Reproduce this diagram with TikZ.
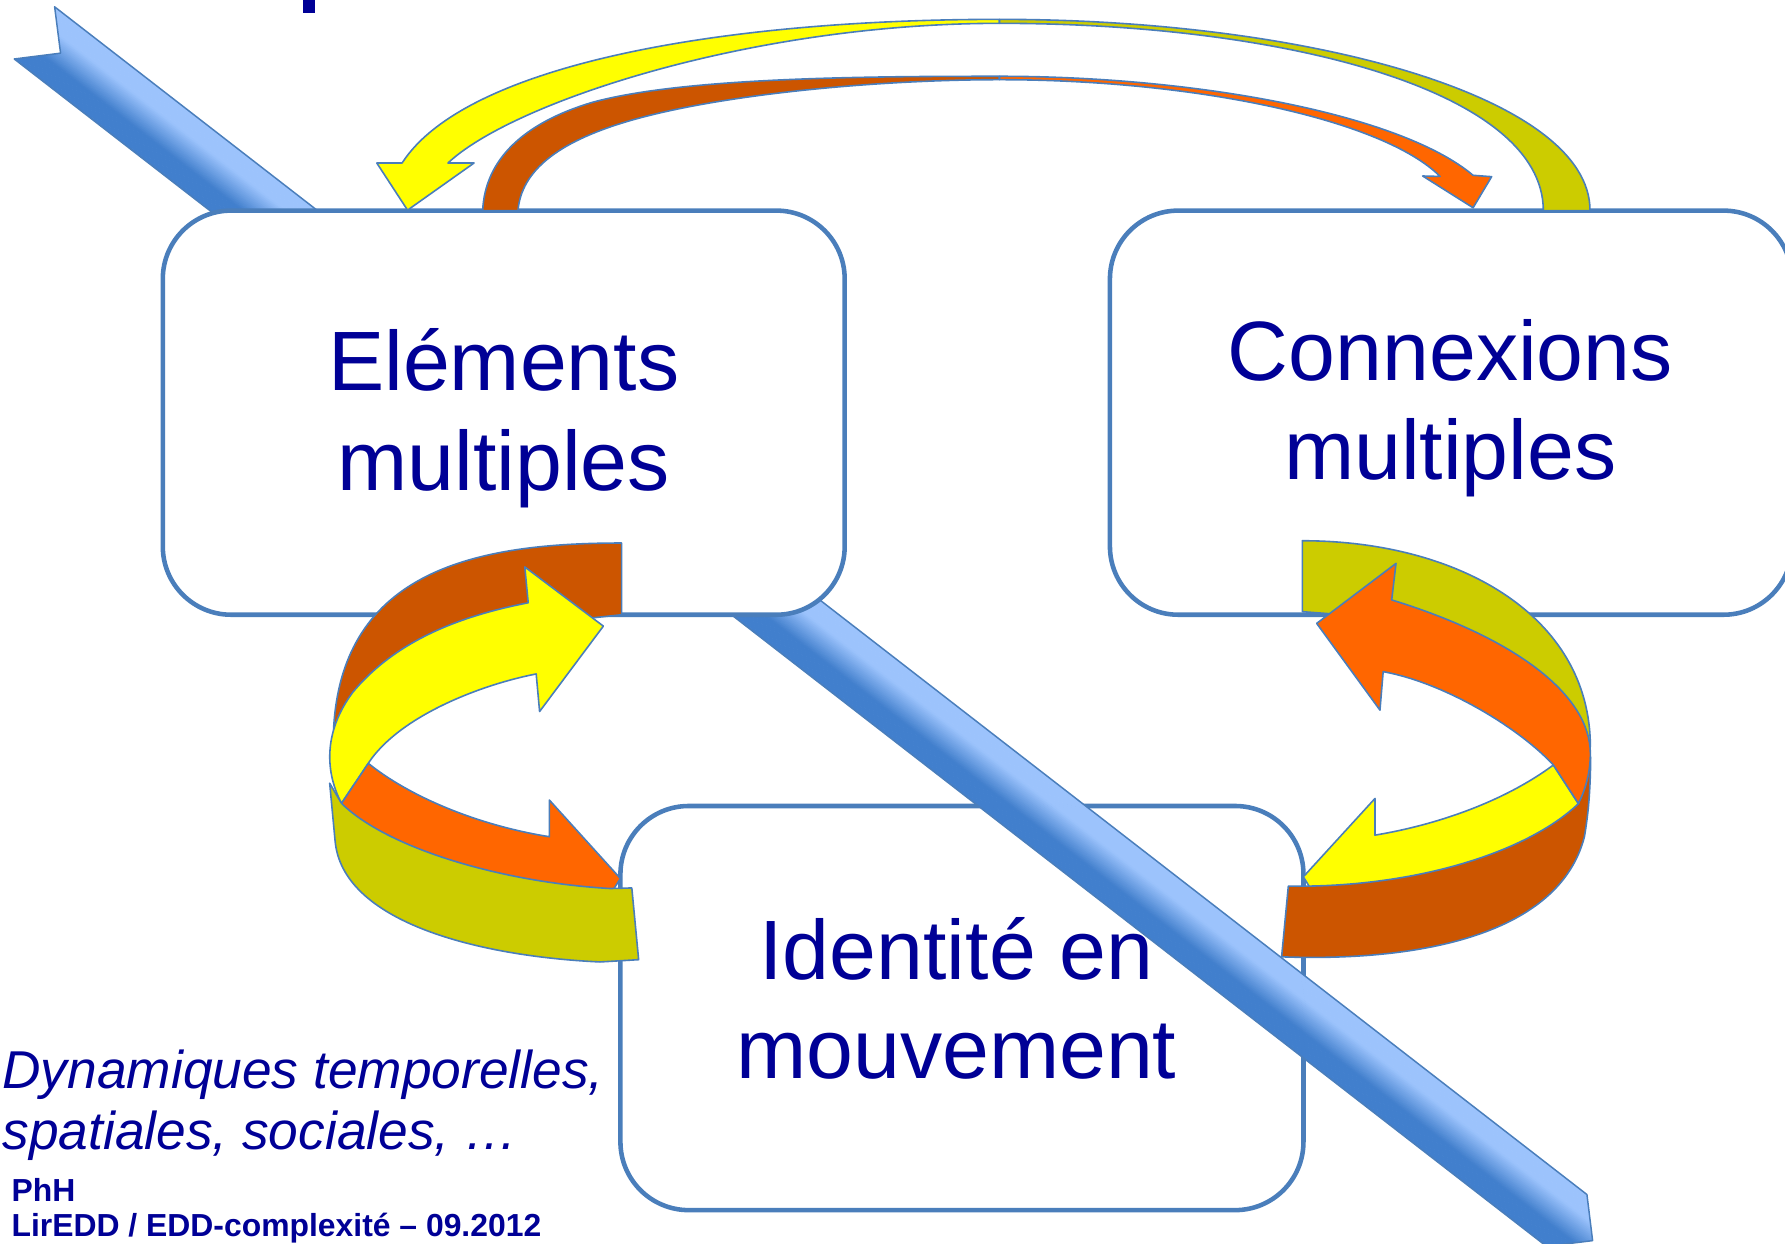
\documentclass[tikz,border=0pt]{standalone}
\usepackage{fontspec}
\setmainfont{Liberation Sans}
\definecolor{edge}{RGB}{74,126,187}
\definecolor{navy}{RGB}{0,0,150}
\definecolor{cYel}{RGB}{255,255,0}
\definecolor{cOli}{RGB}{204,204,0}
\definecolor{cDor}{RGB}{204,85,0}
\definecolor{cOra}{RGB}{255,102,0}
\definecolor{bandL}{RGB}{156,195,252}
\definecolor{bandD}{RGB}{65,127,205}
\begin{document}
\begin{tikzpicture}[x=1pt,y=-1pt,
  boxst/.style={draw=edge, line width=4pt, fill=white, rounded corners=60pt,
    minimum height=355pt, inner sep=0pt, rectangle},
  rib/.style={draw=edge, line width=1.4pt, line join=round},
  bigtxt/.style={anchor=base, text=navy, inner sep=0pt, font=\fontsize{74}{88}\selectfont},
  smalltxt/.style={anchor=base west, text=navy, inner sep=0pt}]
\useasboundingbox (0,0) rectangle (1568,1092);
\clip (0,0) rectangle (1568,1092);

% fragment of the title letter
\fill[navy] (266.5,-2) rectangle (276.7,11.7);

% box 3 (under the band)
\node[boxst, minimum width=600pt] (b3) at (845,885.5) {};

% blue band
\begin{scope}
  \clip (48,6) -- (1394,1049.3) -- (1399,1089.8) -- (1358.5,1094.8) -- (12.5,51.8) -- (53.2,46.7) -- cycle;
  \foreach \k in {0,...,39}{
    \pgfmathsetmacro{\bandoff}{(\k+0.5)*1.45}
    \pgfmathsetmacro{\bandpct}{max(0,min(100,((((\k+0.5)/40)-0.3)/0.4)*100))}
    \draw[line width=1.9pt, color=bandD!\bandpct!bandL]
      ({0.58-0.6126*\bandoff},{-30.76+0.7904*\bandoff}) -- ({1439.1-0.6126*\bandoff},{1084.2+0.7904*\bandoff});
  }
\end{scope}
\draw[draw=edge, line width=1.3pt, line join=round]
  (48,6) -- (1394,1049.3) -- (1399,1089.8) -- (1358.5,1094.8) -- (12.5,51.8) -- (53.2,46.7) -- cycle;

% boxes 1 and 2
\node[boxst, minimum width=599pt] (b1) at (442.5,362.5) {};
\node[boxst, minimum width=599pt] (b2) at (1274.5,362.5) {};

% box texts
\node[bigtxt] (t1a) at (442.5,343) {Eléments};
\node[bigtxt] (t1b) at (442.5,431) {multiples};
\node[bigtxt] (t2a) at (1274,334) {Connexions};
\node[bigtxt] (t2b) at (1274,421) {multiples};
\node[bigtxt] (t3a) at (840,860) {Identité en};
\node[bigtxt] (t3b) at (840,947) {mouvement};

% bottom-left texts
\node[smalltxt, font=\itshape\fontsize{46.8}{55}\selectfont] (d1) at (2,956) {Dynamiques temporelles,};
\node[smalltxt, font=\itshape\fontsize{46.8}{55}\selectfont] (d2) at (2,1010) {spatiales, sociales, …};
\node[smalltxt, font=\bfseries\fontsize{28}{32}\selectfont] (f1) at (10,1055) {PhH};
\node[smalltxt, font=\bfseries\fontsize{28}{32}\selectfont] (f2) at (10,1086) {LirEDD / EDD-complexité – 09.2012};

% ---- top arcs ----
% yellow half with arrowhead to box 1
\filldraw[rib, fill=cYel] (353.2,143.2) .. controls (410,55) and (640,17) .. (878,17)
  -- (878,20.5) .. controls (660,20.5) and (450,90) .. (393.5,143.2)
  -- (416.4,143.2) -- (358,184.6) -- (331,143.2) -- cycle;
% olive half, base on box 2
\filldraw[rib, fill=cOli] (878,17) .. controls (1150,17) and (1397,85) .. (1396.7,185)
  -- (1355.7,185) .. controls (1355.7,80) and (1130,20.5) .. (878,20.5) -- cycle;
% dark orange half, base on box 1
\filldraw[rib, fill=cDor] (424,185) .. controls (426,140) and (460,108) .. (520,90)
  .. controls (600,68) and (760,67) .. (878,67)
  -- (878,70) .. controls (770,70) and (630,83) .. (550,107)
  .. controls (490,125) and (458,150) .. (455,185) -- cycle;
% bright orange half with arrowhead to box 2
\filldraw[rib, fill=cOra] (878,67) .. controls (1050,67) and (1230,100) .. (1294,154)
  -- (1310.3,155.2) -- (1294,182.5) -- (1249.7,154.6)
  -- (1265,155) .. controls (1215,105) and (1050,70) .. (878,70) -- cycle;

% ---- left loop ----
\filldraw[rib, fill=cDor] (546,477) .. controls (420,477) and (300,500) .. (293,641)
  -- (310,632) -- (350,597) -- (420,566) -- (490,546) -- (546,540) -- cycle;
\filldraw[rib, fill=cYel] (300,705.7) .. controls (284,675) and (286,640) .. (310,608)
  .. controls (350,560) and (410,540) .. (464,529.5)
  -- (461,498) -- (530,550) -- (474,625) -- (471,592)
  .. controls (420,602) and (350,630) .. (323.5,670.5) -- cycle;
\filldraw[rib, fill=cOra] (300,705.7) -- (323.5,670.5)
  .. controls (360,700) and (420,725) .. (482.6,735)
  -- (482.6,702.8) -- (545,771.7) -- (530,795) -- (440,780) -- (350,752) -- (310,725) -- cycle;
\filldraw[rib, fill=cOli] (300,705.7) .. controls (340,745) and (440,775) .. (536,780.5)
  -- (555,780) -- (561,843) -- (527,845)
  .. controls (420,840) and (300,810) .. (294.3,738)
  -- (289.6,688) -- cycle;

% ---- right loop ----
\filldraw[rib, fill=cOli] (1144,475) .. controls (1280,475) and (1397,540) .. (1397,656)
  -- (1385,650) -- (1350,610) -- (1290,572) -- (1220,546) -- (1180,540) -- (1144,537.3) -- cycle;
\filldraw[rib, fill=cYel] (1364.5,672) .. controls (1320,705) and (1260,725) .. (1207.8,733.6)
  -- (1207.8,701.4) -- (1144.9,770.2) -- (1160,795) -- (1250,790) -- (1335,765) -- (1386.5,706) -- cycle;
\filldraw[rib, fill=cDor] (1386.5,706) .. controls (1340,750) and (1240,780) .. (1131.7,778.4)
  -- (1125.8,840.5) .. controls (1250,845) and (1370,820) .. (1391.8,735)
  .. controls (1396,710) and (1397,690) .. (1397.3,665) -- cycle;
\filldraw[rib, fill=cOra] (1156.6,547.6) -- (1226.3,494.9) -- (1222.5,527)
  .. controls (1330,560) and (1397,610) .. (1397,662)
  .. controls (1397,680) and (1392,695) .. (1386.5,705.8)
  -- (1364.5,672) .. controls (1335,640) and (1270,600) .. (1215,590)
  -- (1212.2,623.8) -- cycle;
\end{tikzpicture}
\end{document}
